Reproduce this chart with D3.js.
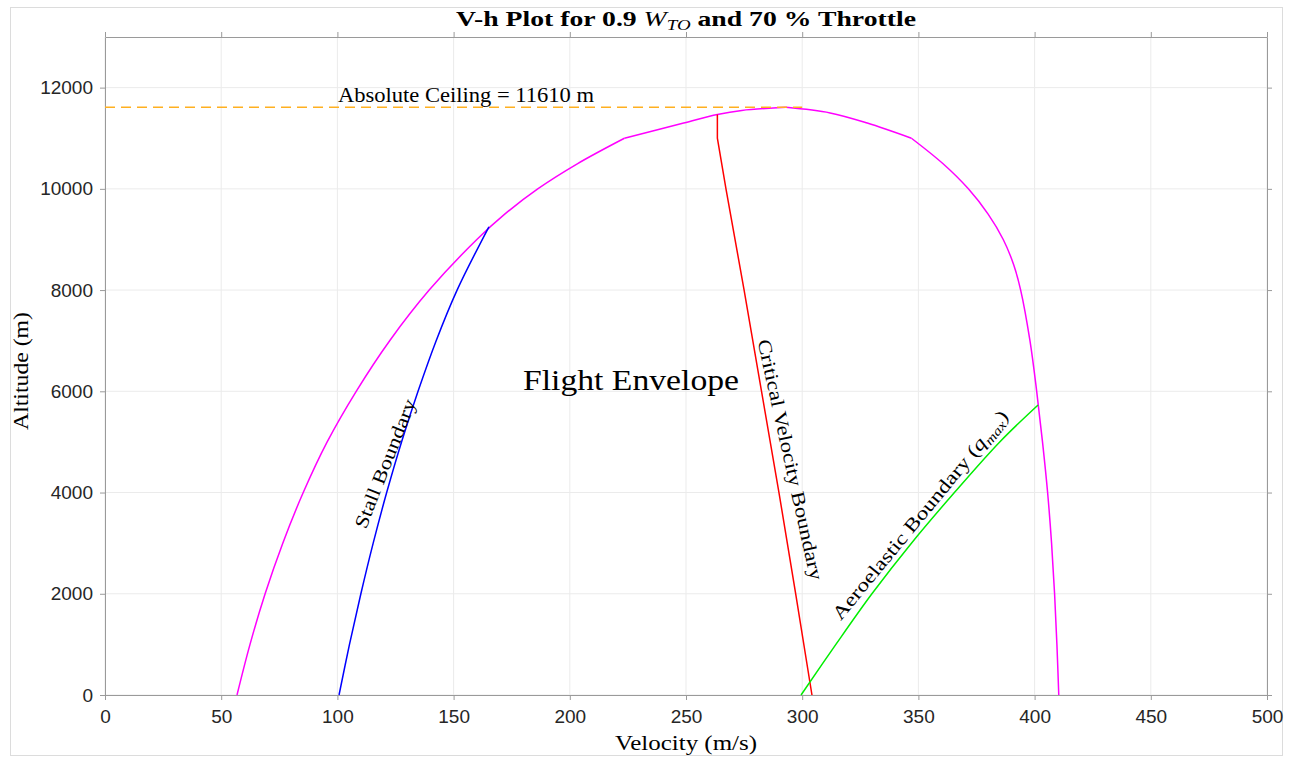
<!DOCTYPE html>
<html>
<head>
<meta charset="utf-8">
<script src="https://cdn.jsdelivr.net/npm/d3@7"></script>
<style>
  body { margin: 0; background: #fff; }
  .tick text { font-family: "Liberation Sans", Arial, sans-serif; font-size: 19px; fill: #262626; }
  .serif { font-family: "Liberation Serif", "Times New Roman", serif; fill: #000; }
</style>
</head>
<body>
<div class="container"></div>
<script>
const WIDTH = 1294;
const HEIGHT = 759;
const LEFT = 105, RIGHT = 1267, TOP = 37, BOTTOM = 695;

// envelope branches, altitude (m) -> velocity (m/s), both ordered by rising altitude
const envLeftH  = [0, 1000, 2000, 3000, 4000, 5000, 6000, 7000, 8000, 9000, 9500, 10000, 10500, 11000, 11300, 11470, 11550, 11610];
const envLeftV  = [56.8, 62.4, 68.9, 76.5, 85.3, 95.6, 108.1, 122.5, 139.5, 160, 172, 186.2, 203.4, 223.5, 249, 263.5, 274, 293];
const envRightH = [0, 1000, 2000, 3000, 4000, 5000, 6000, 7000, 8000, 8500, 9000, 9500, 10000, 10500, 11000, 11300, 11500, 11610];
const envRightV = [410.4, 409.6, 408.6, 407.3, 405.6, 403.4, 400.9, 398, 394, 391, 386.5, 380, 371.5, 360.5, 347, 328, 312, 293];
const tropopause = 11000;

const stallH = [0, 1000, 2000, 3000, 4000, 5000, 6000, 7000, 8000, 9250];
const stallV = [100.7, 105.2, 110.1, 115.4, 121.2, 127.6, 134.7, 142.5, 151.5, 165.2];

const critH = [11470, 11000, 10000, 8000, 6000, 4000, 2000, 0];
const critV = [263.5, 263.5, 267.2, 275, 282.5, 290, 297.2, 304.2];

const aeroH = [0, 1000, 2000, 3000, 4000, 5000, 5730];
const aeroV = [299.5, 314.5, 330, 347, 365.5, 385, 401.5];

const ceiling = 11610;
const ceilingV = [0, 300];

const xTicks = [0, 50, 100, 150, 200, 250, 300, 350, 400, 450, 500];
const yTicks = [0, 2000, 4000, 6000, 8000, 10000, 12000];

const xScale = d3.scaleLinear().domain([0, 500]).range([LEFT, RIGHT]);
const yScale = d3.scaleLinear().domain([0, 13000]).range([BOTTOM, TOP]);

const svg = d3.select('.container').append('svg')
  .attr('width', WIDTH).attr('height', HEIGHT);

// figure border
svg.append('rect').attr('x', 10.5).attr('y', 7.5).attr('width', 1272).attr('height', 748)
  .attr('fill', 'none').attr('stroke', '#dcdcdc');

// grid
svg.append('g').selectAll('line').data(xTicks).enter().append('line')
  .attr('x1', d => xScale(d)).attr('x2', d => xScale(d))
  .attr('y1', TOP).attr('y2', BOTTOM)
  .attr('stroke', '#ebebeb').attr('stroke-width', 1);
svg.append('g').selectAll('line').data(yTicks).enter().append('line')
  .attr('x1', LEFT).attr('x2', RIGHT)
  .attr('y1', d => yScale(d)).attr('y2', d => yScale(d))
  .attr('stroke', '#ebebeb').attr('stroke-width', 1);

// axes
const styleAxis = g => {
  g.select('.domain').attr('stroke', '#9a9a9a');
  g.selectAll('.tick line').attr('stroke', '#9a9a9a');
};
svg.append('g').attr('transform', `translate(0,${BOTTOM})`)
  .call(d3.axisBottom(xScale).tickValues(xTicks).tickSize(5).tickSizeOuter(0).tickPadding(10).tickFormat(d3.format('d')))
  .call(styleAxis);
svg.append('g').attr('transform', `translate(0,${TOP})`)
  .call(d3.axisTop(xScale).tickValues(xTicks).tickSize(5).tickSizeOuter(0).tickFormat(''))
  .call(styleAxis);
svg.append('g').attr('transform', `translate(${LEFT},0)`)
  .call(d3.axisLeft(yScale).tickValues(yTicks).tickSize(5).tickSizeOuter(0).tickPadding(7).tickFormat(d3.format('d')))
  .call(styleAxis);
svg.append('g').attr('transform', `translate(${RIGHT},0)`)
  .call(d3.axisRight(yScale).tickValues(yTicks).tickSize(5).tickSizeOuter(0).tickFormat(''))
  .call(styleAxis);

// lines
const zip = (v, h) => v.map((x, i) => [x, h[i]]);
const smooth = d3.line().x(d => xScale(d[0])).y(d => yScale(d[1])).curve(d3.curveCatmullRom.alpha(0.5));
const straight = d3.line().x(d => xScale(d[0])).y(d => yScale(d[1]));

const drawLine = (pts, gen, color, dash) => {
  svg.append('path').datum(pts)
    .attr('d', gen).attr('fill', 'none')
    .attr('stroke', color).attr('stroke-width', 1.5)
    .attr('stroke-dasharray', dash || null);
};

// envelope drawn in two pieces per branch so the tropopause corner stays sharp
[zip(envLeftV, envLeftH), zip(envRightV, envRightH)].forEach(pts => {
  drawLine(pts.filter(d => d[1] <= tropopause), smooth, '#ff00ff');
  drawLine(pts.filter(d => d[1] >= tropopause), smooth, '#ff00ff');
});
drawLine(zip(ceilingV, [ceiling, ceiling]), straight, '#ffb020', '10,6');
drawLine(zip(stallV, stallH), smooth, '#0000ff');
drawLine(zip(critV, critH), straight, '#ff0000');
drawLine(zip(aeroV, aeroH), smooth, '#00ee00');

// texts
const label = (txt, size, len, transform) => svg.append('text').attr('class', 'serif')
  .attr('transform', transform).attr('text-anchor', 'middle')
  .attr('textLength', len).attr('lengthAdjust', 'spacingAndGlyphs')
  .style('font-size', size + 'px').text(txt);

const title = svg.append('text').attr('class', 'serif')
  .attr('x', 686).attr('y', 26).attr('text-anchor', 'middle')
  .attr('textLength', 460).attr('lengthAdjust', 'spacingAndGlyphs')
  .style('font-size', '22px').style('font-weight', 'bold');
title.append('tspan').text('V-h Plot for 0.9 ');
title.append('tspan').style('font-style', 'italic').style('font-weight', 'normal').text('W');
title.append('tspan').style('font-style', 'italic').style('font-weight', 'normal')
  .style('font-size', '15px').attr('dy', 4).text('TO');
title.append('tspan').attr('dy', -4).text(' and 70 % Throttle');

label('Velocity (m/s)', 20, 142, 'translate(686,750)');
label('Altitude (m)', 20, 118, 'translate(28,371) rotate(-90)');

svg.append('text').attr('class', 'serif')
  .attr('x', 338).attr('y', yScale(ceiling) - 5)
  .attr('textLength', 256).attr('lengthAdjust', 'spacingAndGlyphs')
  .style('font-size', '20px').text('Absolute Ceiling = 11610 m');

label('Flight Envelope', 30, 216, 'translate(631,390)');
label('Stall Boundary', 19, 137, 'translate(391,466) rotate(-68.5)');
label('Critical Velocity Boundary', 19, 246, 'translate(784,461) rotate(77.5)');

const aero = svg.append('text').attr('class', 'serif')
  .attr('transform', 'translate(925,519) rotate(-50.5)').attr('text-anchor', 'middle')
  .attr('textLength', 265).attr('lengthAdjust', 'spacingAndGlyphs')
  .style('font-size', '19px');
aero.append('tspan').text('Aeroelastic Boundary (');
aero.append('tspan').style('font-style', 'italic').text('q');
aero.append('tspan').style('font-style', 'italic').style('font-size', '13px').attr('dy', 4).text('max');
aero.append('tspan').attr('dy', -4).text(')');
</script>
</body>
</html>
